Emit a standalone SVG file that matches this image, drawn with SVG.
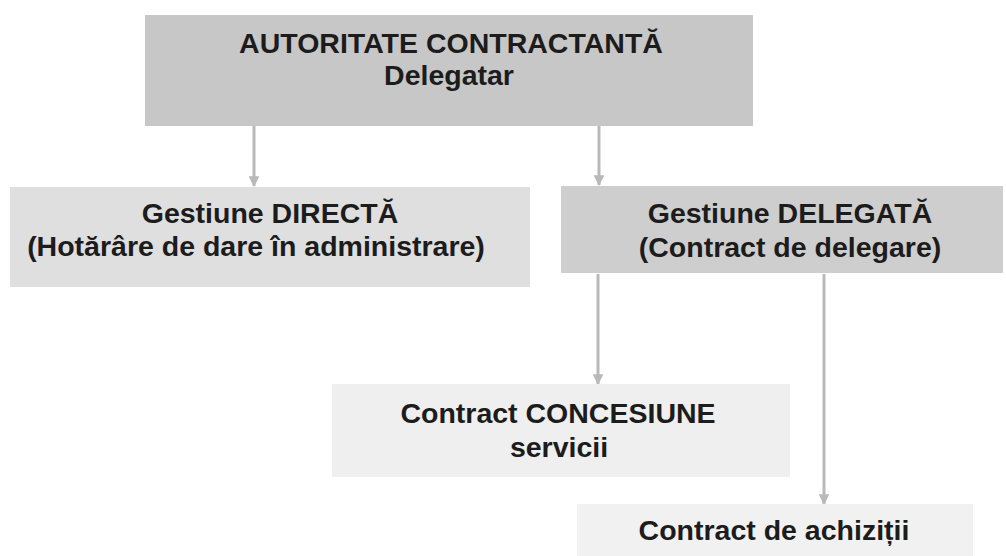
<svg xmlns="http://www.w3.org/2000/svg" width="1006" height="556" viewBox="0 0 1006 556">
<defs>
<style>
.t{font-family:"Liberation Sans",Arial,sans-serif;font-weight:bold;font-size:28.5px;fill:#1c1c1c;text-anchor:middle}
.c{stroke:#b9b9b9;stroke-width:3;fill:none;marker-end:url(#ah)}
</style>
<marker id="ah" viewBox="0 0 10 10" refX="9" refY="5" markerWidth="3.6" markerHeight="3.6" orient="auto" markerUnits="strokeWidth">
<path d="M0,0 L10,5 L0,10 Z" fill="#b9b9b9"/>
</marker>
</defs>
<rect width="1006" height="556" fill="#ffffff"/>
<g id="connectors">
<line class="c" x1="254" y1="126" x2="254" y2="186"/>
<line class="c" x1="599" y1="126" x2="599" y2="185"/>
<line class="c" x1="598" y1="274" x2="598" y2="384"/>
<line class="c" x1="824" y1="274" x2="824" y2="504"/>
</g>
<g id="autoritate">
<rect x="145" y="15" width="608" height="111" fill="#c7c7c7"/>
<text class="t" x="451" y="53">AUTORITATE CONTRACTANTĂ</text>
<text class="t" x="449" y="85">Delegatar</text>
</g>
<g id="directa">
<rect x="10" y="187" width="520" height="100" fill="#dfdfdf"/>
<text class="t" x="270" y="223">Gestiune DIRECTĂ</text>
<text class="t" x="256" y="256">(Hotărâre de dare în administrare)</text>
</g>
<g id="delegata">
<rect x="561" y="186" width="442" height="87" fill="#cecece"/>
<text class="t" x="790" y="223">Gestiune DELEGATĂ</text>
<text class="t" x="790" y="257">(Contract de delegare)</text>
</g>
<g id="concesiune">
<rect x="332" y="384" width="458" height="93" fill="#efefef"/>
<text class="t" x="558" y="423">Contract CONCESIUNE</text>
<text class="t" x="559" y="457">servicii</text>
</g>
<g id="achizitii">
<rect x="577" y="504" width="396" height="52" fill="#f1f1f1"/>
<text class="t" x="774" y="540">Contract de achiziții</text>
</g>
</svg>
